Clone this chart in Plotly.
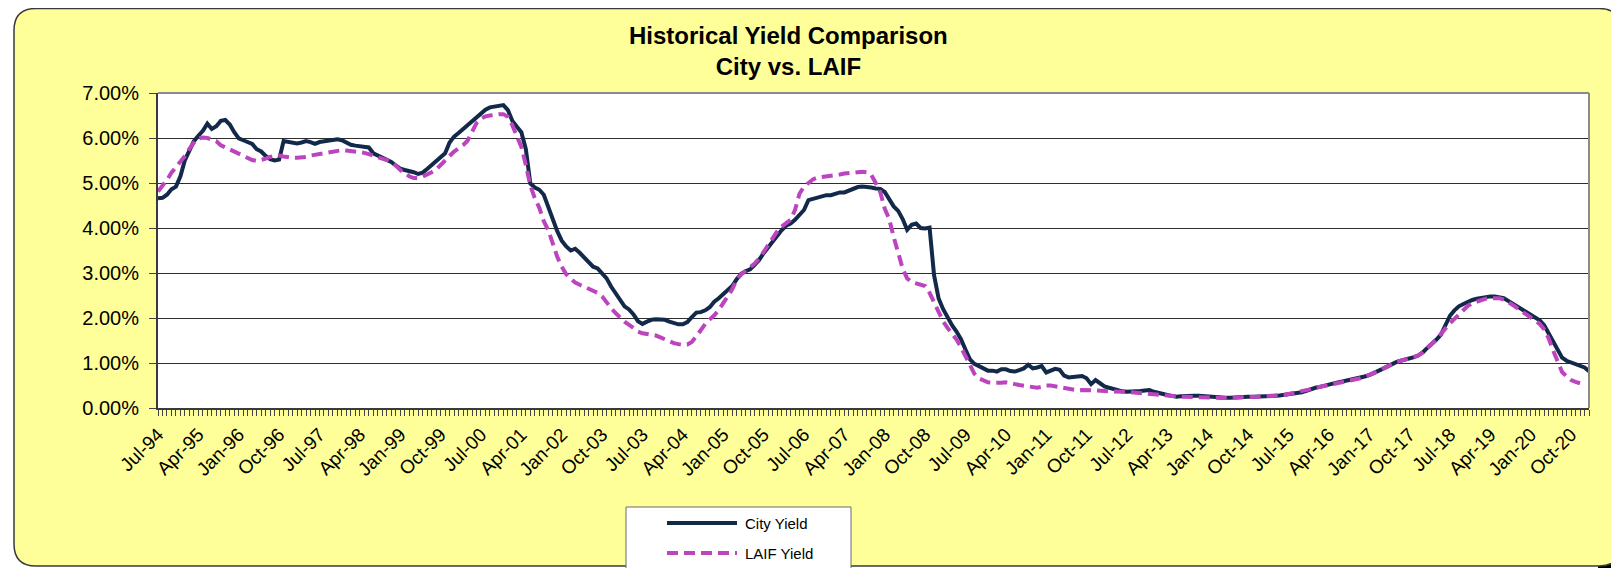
import plotly.graph_objects as go
import pandas as pd

# ---------------- data (percent) ----------------
city_yield = [
    4.66, 4.67, 4.74, 4.86, 4.92, 5.15, 5.51, 5.71, 5.93, 6.05, 6.16, 6.32,
    6.20, 6.26, 6.38, 6.40, 6.30, 6.13, 5.99, 5.95, 5.91, 5.87, 5.75, 5.70,
    5.60, 5.53, 5.50, 5.52, 5.93, 5.92, 5.89, 5.88, 5.90, 5.93, 5.91, 5.87,
    5.91, 5.93, 5.95, 5.97, 5.97, 5.95, 5.90, 5.85, 5.83, 5.81, 5.81, 5.79,
    5.66, 5.61, 5.58, 5.53, 5.47, 5.39, 5.32, 5.29, 5.27, 5.24, 5.20, 5.23,
    5.31, 5.40, 5.48, 5.55, 5.66, 5.90, 6.03, 6.11, 6.20, 6.27, 6.36, 6.47,
    6.55, 6.63, 6.68, 6.69, 6.71, 6.73, 6.62, 6.38, 6.25, 6.13, 5.75, 4.99,
    4.90, 4.85, 4.74, 4.47, 4.18, 3.93, 3.72, 3.59, 3.50, 3.54, 3.45, 3.35,
    3.23, 3.14, 3.10, 2.98, 2.88, 2.70, 2.55, 2.37, 2.26, 2.19, 2.08, 1.93,
    1.87, 1.92, 1.96, 1.97, 1.97, 1.96, 1.92, 1.88, 1.86, 1.86, 1.91, 2.02,
    2.12, 2.13, 2.17, 2.24, 2.36, 2.44, 2.54, 2.62, 2.71, 2.86, 2.98, 3.04,
    3.08, 3.18, 3.29, 3.44, 3.57, 3.68, 3.82, 3.95, 4.05, 4.10, 4.18, 4.29,
    4.40, 4.62, 4.65, 4.68, 4.70, 4.73, 4.73, 4.77, 4.79, 4.79, 4.83, 4.88,
    4.91, 4.92, 4.92, 4.90, 4.88, 4.87, 4.80, 4.62, 4.48, 4.38, 4.20, 3.96,
    4.07, 4.10, 4.00, 3.99, 4.01, 2.95, 2.44, 2.20, 2.01, 1.84, 1.70, 1.53,
    1.30, 1.08, 0.98, 0.93, 0.86, 0.83, 0.83, 0.81, 0.86, 0.86, 0.82, 0.81,
    0.84, 0.88, 0.96, 0.88, 0.90, 0.93, 0.79, 0.82, 0.87, 0.85, 0.72, 0.68,
    0.68, 0.70, 0.71, 0.66, 0.53, 0.62, 0.55, 0.48, 0.45, 0.42, 0.39, 0.37,
    0.36, 0.36, 0.37, 0.38, 0.39, 0.40, 0.36, 0.33, 0.31, 0.29, 0.27, 0.25,
    0.26, 0.27, 0.27, 0.27, 0.27, 0.26, 0.25, 0.25, 0.24, 0.24, 0.23, 0.23,
    0.24, 0.25, 0.25, 0.25, 0.25, 0.25, 0.26, 0.27, 0.27, 0.27, 0.28, 0.29,
    0.30, 0.31, 0.32, 0.35, 0.38, 0.42, 0.45, 0.47, 0.50, 0.53, 0.55, 0.57,
    0.59, 0.61, 0.63, 0.65, 0.66, 0.70, 0.73, 0.77, 0.82, 0.87, 0.92, 0.98,
    1.02, 1.05, 1.07, 1.09, 1.13, 1.17, 1.24, 1.34, 1.42, 1.52, 1.63, 1.85,
    2.05, 2.17, 2.26, 2.31, 2.36, 2.40, 2.43, 2.45, 2.47, 2.48, 2.48, 2.47,
    2.44, 2.38, 2.32, 2.25, 2.18, 2.13, 2.07, 2.02, 1.95, 1.84, 1.66, 1.45,
    1.26, 1.12, 1.05, 1.01, 0.98, 0.94, 0.90, 0.82,
]

laif_yield = [
    4.81, 4.93, 5.07, 5.23, 5.35, 5.46, 5.60, 5.76, 5.90, 5.99, 6.01, 6.00,
    5.97, 5.93, 5.84, 5.79, 5.75, 5.71, 5.66, 5.61, 5.54, 5.51, 5.49, 5.51,
    5.54, 5.58, 5.60, 5.61, 5.59, 5.57, 5.56, 5.56, 5.56, 5.58, 5.61, 5.63,
    5.65, 5.67, 5.69, 5.70, 5.72, 5.73, 5.72, 5.71, 5.70, 5.69, 5.67, 5.64,
    5.61, 5.58, 5.55, 5.51, 5.46, 5.39, 5.29, 5.21, 5.15, 5.11, 5.11, 5.14,
    5.18, 5.24, 5.30, 5.39, 5.50, 5.60, 5.70, 5.77, 5.84, 5.94, 6.15, 6.33,
    6.43, 6.48, 6.50, 6.52, 6.53, 6.53, 6.47, 6.28, 6.05, 5.80, 5.40, 4.94,
    4.66, 4.45, 4.15, 3.95, 3.66, 3.36, 3.14, 2.97, 2.87, 2.79, 2.74, 2.69,
    2.64, 2.60, 2.56, 2.48, 2.33, 2.22, 2.11, 2.00, 1.92, 1.85, 1.77, 1.70,
    1.66, 1.65, 1.63, 1.61, 1.57, 1.52, 1.48, 1.44, 1.42, 1.40, 1.41, 1.47,
    1.59, 1.73, 1.87, 1.97, 2.06, 2.18, 2.32, 2.48, 2.64, 2.85, 2.97, 3.05,
    3.12, 3.21, 3.32, 3.48, 3.64, 3.79, 3.92, 4.03, 4.10, 4.18, 4.40, 4.76,
    4.92, 5.00, 5.08, 5.12, 5.13, 5.14, 5.16, 5.18, 5.19, 5.21, 5.22, 5.24,
    5.25, 5.25, 5.24, 5.18, 5.00, 4.80, 4.43, 4.20, 3.80, 3.47, 3.10, 2.88,
    2.80, 2.77, 2.75, 2.71, 2.56, 2.35, 2.13, 1.93, 1.78, 1.65, 1.52, 1.35,
    1.15, 0.93, 0.76, 0.66, 0.61, 0.57, 0.56, 0.55, 0.56, 0.57, 0.56, 0.53,
    0.51, 0.49, 0.47, 0.46, 0.45, 0.47, 0.50, 0.50, 0.48, 0.46, 0.44, 0.42,
    0.39, 0.39, 0.40, 0.40, 0.40, 0.40, 0.39, 0.38, 0.37, 0.36, 0.36, 0.36,
    0.36, 0.35, 0.35, 0.34, 0.33, 0.31, 0.30, 0.28, 0.27, 0.26, 0.25, 0.24,
    0.25, 0.25, 0.25, 0.25, 0.25, 0.24, 0.24, 0.23, 0.23, 0.22, 0.21, 0.22,
    0.23, 0.23, 0.24, 0.24, 0.25, 0.25, 0.26, 0.26, 0.27, 0.27, 0.28, 0.29,
    0.31, 0.32, 0.34, 0.36, 0.39, 0.42, 0.45, 0.47, 0.50, 0.53, 0.55, 0.57,
    0.59, 0.61, 0.63, 0.65, 0.66, 0.70, 0.73, 0.77, 0.82, 0.87, 0.92, 0.98,
    1.02, 1.05, 1.07, 1.09, 1.13, 1.17, 1.24, 1.34, 1.42, 1.52, 1.65, 1.78,
    1.88, 1.98, 2.08, 2.17, 2.27, 2.33, 2.37, 2.41, 2.43, 2.44, 2.44, 2.44,
    2.41, 2.36, 2.29, 2.22, 2.15, 2.09, 2.02, 1.95, 1.87, 1.75, 1.55, 1.28,
    1.02, 0.80, 0.70, 0.62, 0.58, 0.55,
]

tick_labels = ["Jul-94", "Apr-95", "Jan-96", "Oct-96", "Jul-97", "Apr-98", "Jan-99",
               "Oct-99", "Jul-00", "Apr-01", "Jan-02", "Oct-03", "Jul-03", "Apr-04",
               "Jan-05", "Oct-05", "Jul-06", "Apr-07", "Jan-08", "Oct-08", "Jul-09",
               "Apr-10", "Jan-11", "Oct-11", "Jul-12", "Apr-13", "Jan-14", "Oct-14",
               "Jul-15", "Apr-16", "Jan-17", "Oct-17", "Jul-18", "Apr-19", "Jan-20",
               "Oct-20"]
label_step = 9
y_ticks = [0, 1, 2, 3, 4, 5, 6, 7]

months = pd.date_range("1994-07-01", periods=len(city_yield), freq="MS").strftime("%b-%y")

# ---------------- layout geometry (window px; page body has an 8px margin) ----------------
OFF = 8
W, H = 1619 - OFF, 568 - OFF
PL, PR, PT, PB = 158, 1589, 93, 408


def xp(px):
    return (px - PL) / (PR - PL)


def yp(py):
    return (PB - py) / (PB - PT)


FONT = "Arial, 'Liberation Sans', sans-serif"
CITY_COLOR = "#12294a"
LAIF_COLOR = "#bd44bf"
DASH = "11px,6px"

fig = go.Figure()
fig.add_trace(go.Scatter(
    x=list(range(len(city_yield))), y=city_yield, mode="lines", name="City Yield",
    text=list(months), hovertemplate="%{text}: %{y:.2f}%<extra>City Yield</extra>",
    line=dict(color=CITY_COLOR, width=4)))
fig.add_trace(go.Scatter(
    x=list(range(len(laif_yield))), y=laif_yield, mode="lines", name="LAIF Yield",
    text=list(months[:len(laif_yield)]),
    hovertemplate="%{text}: %{y:.2f}%<extra>LAIF Yield</extra>",
    line=dict(color=LAIF_COLOR, width=4, dash=DASH)))

# background: rounded yellow panel
L, T, R, B, r = 14, 8.5, 1621, 566, 22
path = (f"M {xp(L + r)} {yp(T)} L {xp(R - r)} {yp(T)} Q {xp(R)} {yp(T)} {xp(R)} {yp(T + r)} "
        f"L {xp(R)} {yp(B - r)} Q {xp(R)} {yp(B)} {xp(R - r)} {yp(B)} "
        f"L {xp(L + r)} {yp(B)} Q {xp(L)} {yp(B)} {xp(L)} {yp(B - r)} "
        f"L {xp(L)} {yp(T + r)} Q {xp(L)} {yp(T)} {xp(L + r)} {yp(T)} Z")
shapes = [
    dict(type="rect", xref="paper", yref="paper", x0=xp(1598), x1=xp(1630), y0=yp(548), y1=yp(575),
         fillcolor="#000000", line=dict(width=0), layer="below"),
    dict(type="path", xref="paper", yref="paper", path=path, fillcolor="#ffff99",
         line=dict(color="#3a3a3a", width=1.5), layer="below"),
    dict(type="rect", xref="paper", yref="paper", x0=0, x1=1, y0=0, y1=1,
         fillcolor="#ffffff", line=dict(width=0), layer="below"),
    # plot border top / right (gray)
    dict(type="line", xref="paper", yref="paper", x0=0, x1=1, y0=1, y1=1,
         line=dict(color="#8a8a8a", width=2), layer="above"),
    dict(type="line", xref="paper", yref="paper", x0=1, x1=1, y0=0, y1=1,
         line=dict(color="#8a8a8a", width=2), layer="above"),
    # legend box
    dict(type="rect", xref="paper", yref="paper", x0=xp(626), x1=xp(851), y0=yp(507), y1=yp(580),
         fillcolor="#ffffff", line=dict(color="#6a6a6a", width=1), layer="above"),
    dict(type="line", xref="paper", yref="paper", x0=xp(667), x1=xp(737), y0=yp(523), y1=yp(523),
         line=dict(color=CITY_COLOR, width=4), layer="above"),
    dict(type="line", xref="paper", yref="paper", x0=xp(667), x1=xp(737), y0=yp(553), y1=yp(553),
         line=dict(color=LAIF_COLOR, width=4, dash=DASH), layer="above"),
]

annotations = [
    dict(xref="paper", yref="paper", x=xp(788), y=yp(51), xanchor="center", yanchor="middle",
         text="<b>Historical Yield Comparison<br>City vs. LAIF</b>", showarrow=False,
         font=dict(family=FONT, size=24, color="#000000")),
    dict(xref="paper", yref="paper", x=xp(743), y=yp(523), xanchor="left", yanchor="middle",
         text="City Yield", showarrow=False, font=dict(family=FONT, size=15, color="#000000")),
    dict(xref="paper", yref="paper", x=xp(743), y=yp(553), xanchor="left", yanchor="middle",
         text="LAIF Yield", showarrow=False, font=dict(family=FONT, size=15, color="#000000")),
]

fig.update_layout(
    width=W, height=H, autosize=False,
    margin=dict(l=PL - OFF, r=W - (PR - OFF), t=PT - OFF, b=H - (PB - OFF), pad=0),
    paper_bgcolor="#ffffff", plot_bgcolor="#ffffff",
    showlegend=False, shapes=shapes, annotations=annotations,
    font=dict(family=FONT, color="#000000"),
    xaxis=dict(
        range=[0, len(city_yield) - 1], showgrid=False, zeroline=False,
        showline=True, linecolor="#3a3a3a", linewidth=2,
        tickmode="array", tickvals=[i * label_step for i in range(len(tick_labels))],
        ticktext=tick_labels, tickangle=-45, tickfont=dict(family=FONT, size=19, color="#000000"),
        ticks="outside", ticklen=6, tickcolor="#444444", tickwidth=1,
        minor=dict(tickmode="linear", tick0=0, dtick=1, ticks="outside", ticklen=6,
                   tickcolor="#444444", tickwidth=1, showgrid=False),
    ),
    yaxis=dict(
        range=[0, 7], tickmode="array", tickvals=y_ticks,
        ticktext=[f"{v:.2f}%" for v in y_ticks],
        tickfont=dict(family=FONT, size=20, color="#000000"),
        showgrid=True, gridcolor="#2e2e2e", gridwidth=1, zeroline=False,
        showline=True, linecolor="#3a3a3a", linewidth=2,
        ticks="outside", ticklen=7, tickcolor="#444444", ticklabelstandoff=6,
    ),
)

fig.write_html("out.html")
